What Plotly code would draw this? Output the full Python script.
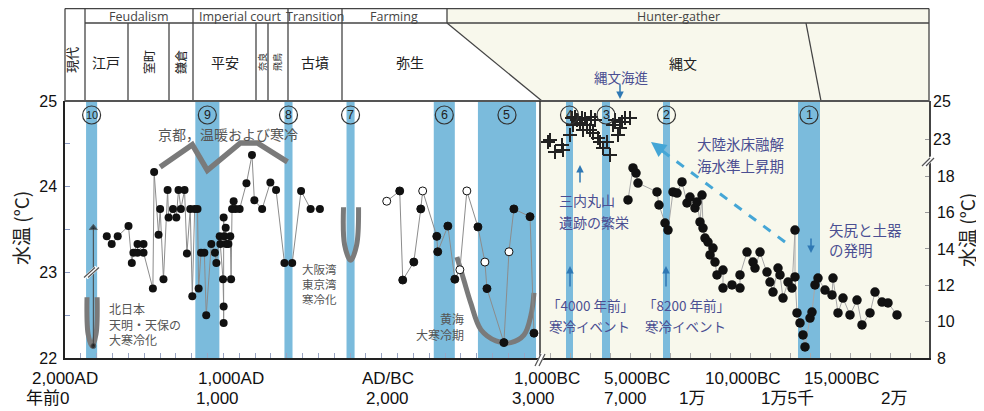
import plotly.graph_objects as go

# ---------------- DATA ----------------
# Left panel: years before present (0 = AD2000), water temperature (°C, left axis)
kyoto_years = [264, 295, 333, 401, 422, 432, 458, 458, 496, 496, 555, 563, 591, 601, 622, 648, 654, 682, 703, 717,
               732, 755, 770, 791, 804, 819, 837, 844, 859, 880, 892, 924, 947, 956, 977, 981, 998, 1002, 1002, 1002,
               1006, 1015, 1019, 1032, 1044, 1049, 1055, 1065, 1076, 1103, 1146, 1181, 1196, 1245, 1297, 1333, 1386,
               1435, 1491, 1551, 1610]
kyoto_temp = [23.42, 23.33, 23.42, 23.54, 23.11, 23.23, 23.33, 23.23, 23.33, 23.23, 22.81, 24.17, 23.44, 23.74, 22.92,
              23.96, 23.64, 23.74, 23.64, 23.96, 23.74, 23.96, 23.22, 23.74, 22.72, 23.74, 23.74, 22.81, 23.23, 23.23,
              22.50, 23.33, 23.23, 23.11, 23.42, 23.33, 22.92, 22.60, 22.41, 23.64, 23.42, 23.52, 23.33, 23.33, 23.42,
              22.92, 23.74, 23.83, 23.74, 23.74, 24.04, 24.37, 23.84, 23.74, 24.05, 23.96, 23.11, 23.11, 23.95, 23.74,
              23.74]

sea_years = [2032, 2114, 2133, 2203, 2247, 2259, 2348, 2354, 2418, 2462, 2494, 2538, 2608, 2652, 2665, 2772, 2804,
             2835, 2937, 2962]
sea_temp = [23.83, 23.95, 22.91, 23.12, 23.74, 23.95, 23.42, 23.24, 23.54, 22.92, 23.03, 23.95, 23.53, 23.12, 22.81,
            22.18, 23.24, 23.74, 23.65, 22.29]
sea_open = [1, 0, 0, 0, 0, 1, 0, 0, 0, 0, 1, 1, 0, 1, 0, 0, 1, 0, 0, 0]

tenmei_mark_year = [179, 179]
tenmei_mark_temp = [23.52, 22.14]

# Right panel: years before present
cross_years = [2900, 3000, 3250, 3600, 3650, 4000, 4100, 4150, 4250, 4350, 4500, 4600, 4650, 4750, 4850, 5000, 5050,
               5150, 5250, 5400, 5500, 5650, 5850, 6000, 6150, 6250, 6400, 6500, 6600, 6750, 7000]
cross_temp = [22.84, 22.95, 22.32, 22.68, 22.42, 23.21, 24.10, 23.74, 24.16, 24.00, 23.84, 24.10, 23.47, 24.05, 23.74,
              23.47, 24.16, 23.32, 24.00, 23.05, 22.84, 22.53, 22.84, 22.16, 23.74, 24.00, 23.21, 23.58, 23.89, 24.10,
              24.10]

jomon_years = [6900, 7150, 7300, 7400, 8350, 8450, 8750, 8900, 9150, 9350, 9600, 9850, 10000, 10250, 10350, 10500,
               10600, 10650, 10750, 10900, 11000, 11150, 11250, 11350, 11650, 11650, 12100, 12500, 12500, 12850,
               13150, 13250, 13500, 13850, 14000, 14150, 14400, 14500, 14650, 14900, 15100, 15250, 15250, 15350,
               15500, 15650, 15750, 16000, 16100, 16250, 16400, 16750, 17100, 17150, 17400, 17650, 18000, 18350,
               18600, 19000, 19250, 19600, 19900, 20350]
jomon_temp = [16.70, 18.46, 18.18, 17.63, 17.14, 16.42, 15.43, 15.04, 17.14, 17.08, 17.69, 16.53, 16.86, 16.26, 16.59,
              15.49, 16.97, 15.15, 14.60, 14.38, 13.67, 14.05, 13.28, 12.57, 12.84, 11.85, 12.02, 11.85, 12.57, 13.83,
              13.28, 12.95, 13.83, 12.73, 12.18, 11.63, 12.95, 12.57, 11.30, 12.18, 11.85, 15.04, 12.46, 10.48, 9.93,
              9.27, 8.61, 10.20, 10.53, 12.02, 12.40, 11.74, 11.47, 12.40, 10.48, 11.30, 10.37, 11.19, 9.82, 10.48,
              11.63, 11.08, 11.03, 10.37]

# schematic trend curves (thick grey)
trend_kyoto_years = [601, 804, 899, 1108, 1215, 1405]
trend_kyoto_temp = [24.23, 24.49, 24.19, 24.51, 24.51, 24.29]
trend_tenmei_years = [139, 146, 171, 196, 203]
trend_tenmei_temp = [22.71, 22.28, 22.14, 22.28, 22.71]
trend_band7_years = [1759, 1766, 1804, 1842, 1854]
trend_band7_temp = [23.76, 23.32, 23.14, 23.32, 23.76]
trend_yellow_years = [2475, 2519, 2563, 2627, 2722, 2816, 2899, 2943, 2962]
trend_yellow_temp = [23.18, 22.91, 22.64, 22.33, 22.20, 22.18, 22.27, 22.50, 22.76]

# cold-event bands (years BP)
left_band_start = [133, 823, 1386, 1778, 2329, 2608]
left_band_end = [203, 975, 1437, 1829, 2462, 2975]
left_band_label = ["10", "9", "8", "7", "6", "5"]
right_band_start = [3800, 5600, 8650, 15400]
right_band_end = [4150, 6000, 9000, 16500]
right_band_label = ["4", "3", "2", "1"]

# bottom axis labels
row1_left_text = ["2,000AD", "1,000AD", "AD/BC"]
row1_left_pos = [0, 1051, 2038]
row1_right_text = ["1,000BC", "5,000BC", "10,000BC", "15,000BC"]
row1_right_pos = [2850, 7350, 12650, 17600]
row2_left_text = ["1,000", "2,000", "3,000"]
row2_left_pos = [962, 2038, 2956]
row2_right_text = ["7,000", "1万", "1万5千", "2万"]
row2_right_pos = [6750, 10100, 14850, 20200]
row2_origin_text = "年前0"

# ---------------- LAYOUT HELPERS ----------------
# coordinates below are screen pixels; the page body adds an 8px offset
OFF = 8
FW, FH = 984 - OFF, 411 - OFF
L, R, T, B = 65, 929, 101, 358
XB = (540 - L) / (R - L)


def px(X):
    return (X - L) / (R - L)


def py(Y):
    return (B - Y) / (B - T)


CJK = "Noto Sans CJK JP"
LAT = "Liberation Sans, Arial"
HDR = "Open Sans"
BLUE = "#7bbbdc"
BEIGE = "#f8f8ec"
GREY_T = "#555555"
PURP = "#4b4f92"
ARROW = "#2f78b4"

fig = go.Figure()
shapes = []
ann = []

# background for hunter-gatherer region
shapes.append(dict(type="rect", xref="paper", yref="paper", x0=XB, x1=1, y0=0, y1=1,
                   fillcolor=BEIGE, line=dict(width=0), layer="below"))
shapes.append(dict(type="path", xref="paper", yref="paper",
                   path=f"M{px(447)},{py(8.5)} L{px(929)},{py(8.5)} L{px(929)},{py(101)} L{px(542)},{py(101)} L{px(447)},{py(23)} Z",
                   fillcolor=BEIGE, line=dict(width=0), layer="below"))


def band(s, e, lab, xr):
    shapes.append(dict(type="rect", xref=xr, yref="paper", x0=s, x1=e, y0=0, y1=1,
                       fillcolor=BLUE, line=dict(width=0), layer="below"))
    c = (s + e) / 2
    shapes.append(dict(type="circle", xref=xr, yref="paper", xsizemode="pixel", ysizemode="pixel",
                       xanchor=c, yanchor=py(115), x0=-9, x1=9, y0=-9, y1=9,
                       line=dict(color="#333", width=1.2), fillcolor="rgba(0,0,0,0)"))
    ann.append(dict(text=lab, x=c, y=py(115), xref=xr, yref="paper", showarrow=False,
                    xanchor="center", yanchor="middle",
                    font=dict(size=12.5 if len(lab) == 1 else 11, color="#222", family=LAT)))


for s, e, lab in zip(left_band_start, left_band_end, left_band_label):
    band(s, e, lab, "x")
for s, e, lab in zip(right_band_start, right_band_end, right_band_label):
    band(s, e, lab, "x2")

# header lines
HL = dict(color="#444", width=1.3)


def seg(x0, y0, x1, y1, line=HL):
    shapes.append(dict(type="line", xref="paper", yref="paper", x0=px(x0), y0=py(y0), x1=px(x1), y1=py(y1),
                       line=line))


seg(65, 8.6, 929, 8.6)
seg(65, 8.6, 65, 101)
seg(929, 8.6, 929, 101)
seg(85, 23, 929, 23)
for X in [85, 193, 288, 342]:
    seg(X, 8.6, X, 101)
seg(447, 8.6, 447, 23)
seg(447, 23, 542, 101)
for X in [128, 169, 256, 268]:
    seg(X, 23, X, 101)
seg(806, 23, 821, 101)
seg(65, 101, 929, 101, dict(color="#555", width=1.8))
seg(540, 101, 540, 358, dict(color="#333", width=1.5))


# break marks
def brk(x0, y0, dx, dy, off, wcol="white", col="#555"):
    seg(x0 - dx, y0 + dy, x0 + dx, y0 - dy, dict(color=wcol, width=off + 1))
    seg(x0 - dx - off / 2, y0 + dy, x0 + dx - off / 2, y0 - dy, dict(color=col, width=1.2))
    seg(x0 - dx + off / 2, y0 + dy, x0 + dx + off / 2, y0 - dy, dict(color=col, width=1.2))


brk(540, 360, 3, 6, 4)
brk(928, 162, 4, 4, 4)
brk(91.5, 272.5, 5.5, 5, 4)


def txt(s, X, Y, size=13, color="#333", xa="center", ya="middle", angle=0, family=CJK, align=None):
    d = dict(text=s, x=px(X), y=py(Y), xref="paper", yref="paper", showarrow=False, xanchor=xa,
             yanchor=ya, textangle=angle, font=dict(size=size, color=color, family=family))
    if align:
        d["align"] = align
    ann.append(d)


for s, X in [("Feudalism", 139), ("Imperial court", 240), ("Transition", 315), ("Farming", 394),
             ("Hunter-gather", 678)]:
    txt(s, X, 16, size=12.5, color="#444", family=HDR)
txt("現代", 72, 60, 13, "#222", angle=-90)
txt("江戸", 106, 62, 14, "#222")
txt("室町", 148, 62, 12, "#222", angle=-90)
txt("鎌倉", 180, 62, 12, "#222", angle=-90)
txt("平安", 225, 62, 14, "#222")
txt("奈良", 262, 62, 9, "#222", angle=-90)
txt("飛鳥", 277, 62, 9, "#222", angle=-90)
txt("古墳", 315, 62, 14, "#222")
txt("弥生", 410, 62, 14, "#222")
txt("縄文", 683, 63, 14, "#222")

# axis titles
txt("水温 (°C)", 20, 228, 19, "#222", angle=-90)
txt("水温 (°C)", 966, 230, 19, "#222", angle=-90)

# in-plot annotations
txt("京都，温暖および寒冷", 228, 134, 14, GREY_T)
txt("北日本<br>天明・天保の<br>大寒冷化", 107, 324, 12, GREY_T, xa="left", align="left")
txt("大阪湾<br>東京湾<br>寒冷化", 300, 284, 11.5, GREY_T, xa="left", align="left")
txt("黄海<br>大寒冷期", 466, 326, 12, GREY_T, xa="right", align="right")
txt("縄文海進", 621, 77, 13.5, PURP)
txt("三内丸山", 557, 200, 14, PURP, xa="left")
txt("遺跡の繁栄", 557, 222, 14, PURP, xa="left")
txt("「4000 年前」", 545, 305, 13.5, PURP, xa="left")
txt("「8200 年前」", 641, 305, 13.5, PURP, xa="left")
txt("寒冷イベント", 547, 326, 13.5, PURP, xa="left")
txt("寒冷イベント", 643, 326, 13.5, PURP, xa="left")
txt("大陸氷床融解", 695, 143, 14.5, PURP, xa="left")
txt("海水準上昇期", 695, 165, 14.5, PURP, xa="left")
txt("矢尻と土器", 827, 229, 14.5, PURP, xa="left")
txt("の発明", 827, 249, 14.5, PURP, xa="left")


def arrow(X, yh, yt, color=ARROW, w=1.5):
    ann.append(dict(x=px(X), y=py(yh), xref="paper", yref="paper", ax=0, ay=yt - yh, text="", showarrow=True,
                    arrowhead=2, arrowsize=1, arrowwidth=w, arrowcolor=color))


arrow(620, 99, 83)
arrow(580, 165, 184)
arrow(570, 266, 288)
arrow(666, 266, 288)
arrow(811, 253, 237)

# dashed arrow
DASH = "#45a6d6"
seg(785, 242, 657, 147, dict(color=DASH, width=3, dash="dash"))
ann.append(dict(x=px(651), y=py(142), xref="paper", yref="paper", ax=12, ay=9, text="", showarrow=True,
                arrowhead=2, arrowsize=1, arrowwidth=3, arrowcolor=DASH))

# bottom labels
YR1, YR2 = py(378), py(398)
BFONT = dict(size=17, color="#111", family=LAT + ", " + CJK)


def blab(s, p, yv, xr):
    ann.append(dict(text=s, x=p, y=yv, xref=xr, yref="paper", showarrow=False, xanchor="center",
                    yanchor="middle", font=BFONT))


for s, p in zip(row1_left_text, row1_left_pos):
    blab(s, p, YR1, "x")
for s, p in zip(row1_right_text, row1_right_pos):
    blab(s, p, YR1, "x2")
for s, p in zip(row2_left_text, row2_left_pos):
    blab(s, p, YR2, "x")
for s, p in zip(row2_right_text, row2_right_pos):
    blab(s, p, YR2, "x2")
txt(row2_origin_text, 47, 398, 17, "#111", family=LAT + ", " + CJK)

# ---------------- TRACES ----------------
TREND = dict(color="#7a7a7a", width=5.5)
fig.add_trace(go.Scatter(x=trend_kyoto_years, y=trend_kyoto_temp, mode="lines", line=TREND,
                         xaxis="x", yaxis="y", hoverinfo="skip"))
for xs, ys in [(trend_tenmei_years, trend_tenmei_temp), (trend_band7_years, trend_band7_temp),
               (trend_yellow_years, trend_yellow_temp)]:
    fig.add_trace(go.Scatter(x=xs, y=ys, mode="lines",
                             line=dict(color="#7a7a7a", width=5, shape="spline", smoothing=1.0),
                             xaxis="x", yaxis="y", hoverinfo="skip"))

fig.add_trace(go.Scatter(x=tenmei_mark_year, y=tenmei_mark_temp, mode="lines+markers",
                         line=dict(color="#444", width=1),
                         marker=dict(symbol=["triangle-up", "circle"], size=[7, 5], color="#111"),
                         xaxis="x", yaxis="y"))

fig.add_trace(go.Scatter(x=kyoto_years, y=kyoto_temp, mode="lines+markers",
                         line=dict(color="#8c8c8c", width=1),
                         marker=dict(size=8, color="#111"), xaxis="x", yaxis="y"))
fig.add_trace(go.Scatter(x=sea_years, y=sea_temp, mode="lines+markers",
                         line=dict(color="#8c8c8c", width=1),
                         marker=dict(size=8, color=["white" if o else "#111" for o in sea_open],
                                     line=dict(color="#111", width=1)),
                         xaxis="x", yaxis="y"))
fig.add_trace(go.Scatter(x=cross_years, y=cross_temp, mode="markers",
                         marker=dict(symbol="cross-thin", size=10, line=dict(width=2, color="#222")),
                         xaxis="x2", yaxis="y3"))
fig.add_trace(go.Scatter(x=jomon_years, y=jomon_temp, mode="lines+markers",
                         line=dict(color="#a8a8a8", width=1),
                         marker=dict(size=9.5, color="#111"), xaxis="x2", yaxis="y2"))

Y2TOP = 8 + (B - T) / 18.17
Y3BOT = 25 - (B - T) / 19.0

fig.update_layout(
    width=FW, height=FH,
    margin=dict(l=L - OFF, r=FW - (R - OFF), t=T - OFF, b=FH - (B - OFF), pad=0),
    paper_bgcolor="white", plot_bgcolor="white",
    showlegend=False,
    shapes=shapes, annotations=ann,
    xaxis=dict(domain=[0, XB], range=[0, 3000], anchor="y", showline=True, linecolor="#222", linewidth=1.5,
               showgrid=False, zeroline=False, showticklabels=False, ticks="inside", ticklen=5,
               tickcolor="#9aa6c4", tickvals=list(range(100, 3000, 100))),
    xaxis2=dict(domain=[XB, 1], range=[2500, 21950], anchor="y2", showline=True, linecolor="#222", linewidth=1.5,
                showgrid=False, zeroline=False, showticklabels=False, ticks="inside", ticklen=5,
                tickcolor="#aaaaaa", tickvals=list(range(3000, 22000, 1000))),
    yaxis=dict(domain=[0, 1], range=[22, 25], anchor="x", showline=True, linecolor="#222", linewidth=1.5,
               showgrid=False, zeroline=False, ticks="inside", ticklen=5, tickcolor="#8b9bc4",
               tickvals=[22, 22.5, 23, 23.5, 24, 24.5, 25], ticktext=["22", "", "23", "", "24", "", "25"],
               tickfont=dict(size=16, color="#111", family=LAT), ticklabelstandoff=3),
    yaxis2=dict(domain=[0, 1], range=[8, Y2TOP], anchor="x2", side="right", showline=True, linecolor="#444",
                linewidth=1.5, showgrid=False, zeroline=False, ticks="inside", ticklen=4, tickcolor="#999",
                tickvals=[8, 10, 12, 14, 16, 18], tickfont=dict(size=16, color="#111", family=LAT),
                ticklabelstandoff=3),
    yaxis3=dict(range=[Y3BOT, 25], anchor="x2", overlaying="y2", side="right", showline=False,
                showgrid=False, zeroline=False, ticks="inside", ticklen=4, tickcolor="#999",
                tickvals=[23, 25], tickfont=dict(size=16, color="#111", family=LAT), ticklabelstandoff=3),
)

fig.write_html("out.html")
